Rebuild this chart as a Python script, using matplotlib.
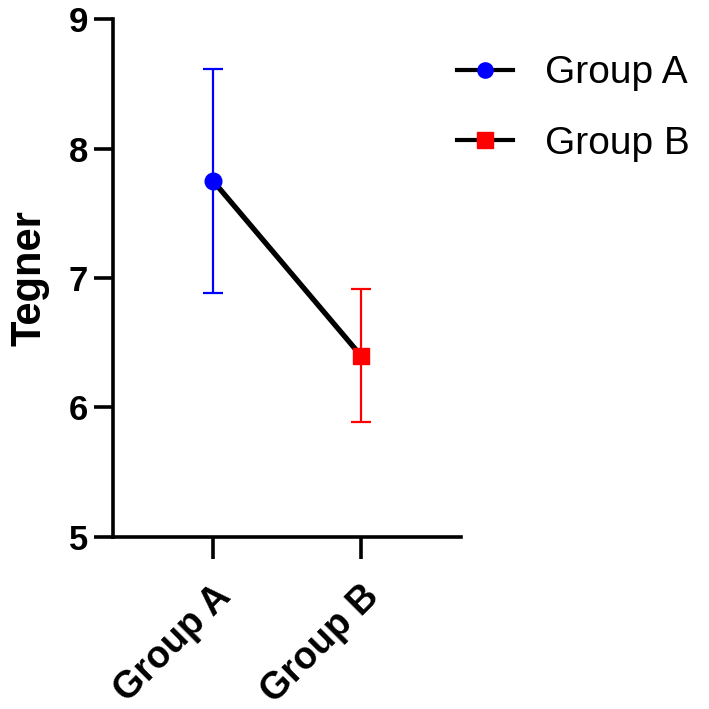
import matplotlib
matplotlib.use("Agg")
import matplotlib.pyplot as plt
from matplotlib.lines import Line2D

groups = ["Group A", "Group B"]
means = [7.75, 6.40]
errors = [0.865, 0.515]
colors = ["#0000ff", "#ff0000"]
markers = ["o", "s"]
y_ticks = [5, 6, 7, 8, 9]

plt.rcParams['font.family'] = ['Liberation Sans', 'DejaVu Sans']

fig = plt.figure(figsize=(7.09, 7.09), dpi=100)
ax = fig.add_axes([0.1594, 0.2426, 0.4908, 0.7306])

x = list(range(len(groups)))
ax.plot(x, means, color='black', lw=3.8, zorder=2)
for i in x:
    ax.errorbar(x[i], means[i], yerr=errors[i], color=colors[i], lw=1.6,
                capsize=7, capthick=1.6, zorder=1)
    ax.plot(x[i], means[i], marker=markers[i], color=colors[i],
            ms=12 if markers[i] == 'o' else 11, ls='none', zorder=3)

ax.set_xlim(-0.676, 1.676)
ax.set_ylim(5, 9)
ax.set_yticks(y_ticks)
ax.set_yticklabels([str(t) for t in y_ticks], fontsize=25, fontweight='bold')
ax.set_xticks(x)
ax.set_xticklabels(groups, fontsize=27, fontweight='bold', rotation=45,
                   ha='right', rotation_mode='anchor')
ax.tick_params(axis='y', length=14, width=2.6, pad=4)
ax.tick_params(axis='x', length=16, width=2.6, pad=14)
for s in ['top', 'right']:
    ax.spines[s].set_visible(False)
for s in ['left', 'bottom']:
    ax.spines[s].set_linewidth(2.6)
ax.set_ylabel("Tegner", fontsize=30, fontweight='bold', labelpad=14)

handles = [Line2D([0], [0], color='black', lw=3, marker=markers[i],
                  markerfacecolor=colors[i], markeredgecolor=colors[i], ms=11)
           for i in range(len(groups))]
fig.legend(handles, groups, loc='upper left', bbox_to_anchor=(0.6446, 0.922),
           frameon=False, fontsize=28, handlelength=1.45, handletextpad=0.82,
           labelspacing=0.88, borderpad=0, borderaxespad=0)

fig.savefig("out.png", dpi=100)
